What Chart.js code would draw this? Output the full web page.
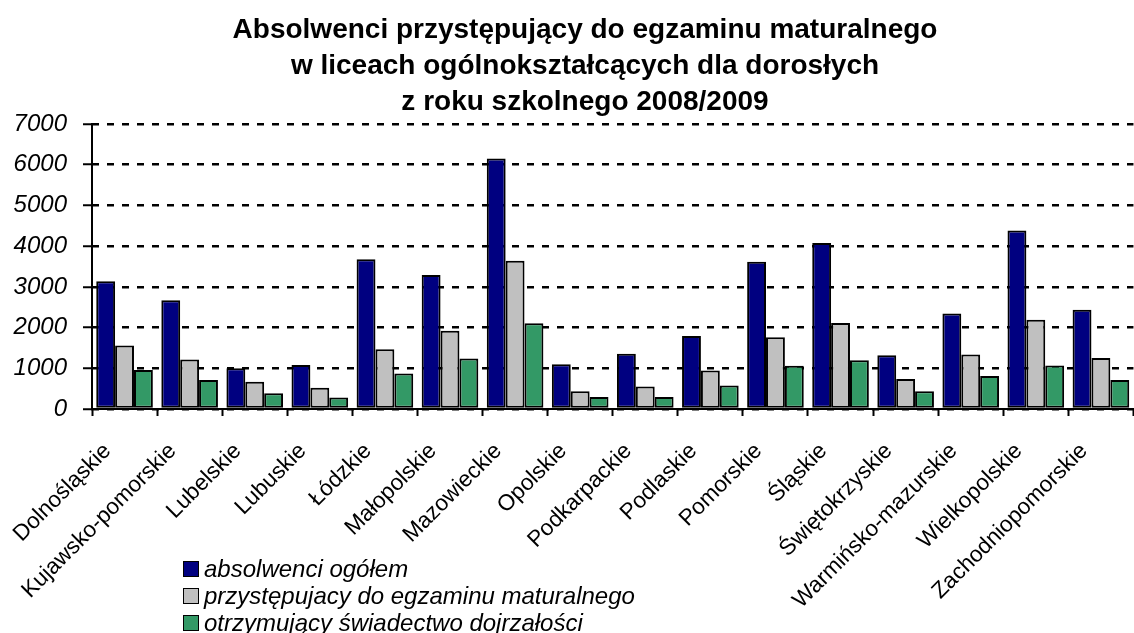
<!DOCTYPE html>
<html lang="pl">
<head>
<meta charset="utf-8">
<title>Absolwenci przystępujący do egzaminu maturalnego</title>
<script src="https://cdn.jsdelivr.net/npm/chart.js@4.4.1/dist/chart.umd.min.js"></script>
<style>
  html, body { margin: 0; padding: 0; background: #fff; overflow: hidden; }
  #wrap { position: relative; width: 1142px; height: 633px; }
  #legenda {
    position: absolute; left: 183px; top: 555px;
    font-family: "Liberation Sans", Arial, sans-serif; font-size: 24px; font-style: italic;
    color: #000; line-height: 27px;
  }
  #legenda div { display: flex; align-items: center; white-space: nowrap; }
  #legenda span.kw {
    display: inline-block; width: 14px; height: 14px; border: 1.5px solid #000;
    margin-right: 5px; flex: none;
  }
</style>
</head>
<body>
<div id="wrap">
  <canvas id="wykres" width="1142" height="633"></canvas>
  <div id="legenda"></div>
</div>
<script>
// województwa
const wojewodztwa = ['Dolnośląskie', 'Kujawsko-pomorskie', 'Lubelskie', 'Lubuskie', 'Łódzkie',
  'Małopolskie', 'Mazowieckie', 'Opolskie', 'Podkarpackie', 'Podlaskie', 'Pomorskie', 'Śląskie',
  'Świętokrzyskie', 'Warmińsko-mazurskie', 'Wielkopolskie', 'Zachodniopomorskie'];

const absolwenci = [3140, 2670, 1000, 1080, 3680, 3290, 6150, 1100, 1355, 1795, 3615, 4075, 1320, 2345, 4385, 2440];
const przystepujacy = [1560, 1215, 670, 520, 1470, 1925, 3640, 435, 555, 945, 1765, 2115, 735, 1340, 2190, 1250];
const swiadectwo = [955, 710, 385, 280, 875, 1240, 2105, 295, 295, 580, 1060, 1200, 435, 810, 1070, 710];

const nazwySerii = ['absolwenci ogółem', 'przystępujacy do egzaminu maturalnego', 'otrzymujący świadectwo dojrzałości'];
const kolory = ['#000080', '#c0c0c0', '#339966'];

const tytul = ['Absolwenci przystępujący do egzaminu maturalnego',
  'w liceach ogólnokształcących dla dorosłych',
  'z roku szkolnego 2008/2009'];

const czcionka = '"Liberation Sans", Arial, sans-serif';

// tytuł rysowany ręcznie - wyśrodkowany nad całym wykresem, a nie nad obszarem kanwy
const tytulPlugin = {
  id: 'tytul',
  afterDraw(chart) {
    const ctx = chart.ctx;
    ctx.save();
    ctx.font = 'bold 28px ' + czcionka;
    ctx.fillStyle = '#000';
    ctx.textAlign = 'center';
    ctx.textBaseline = 'alphabetic';
    tytul.forEach((linia, i) => ctx.fillText(linia, 585, 38 + i * 36));
    ctx.restore();
  }
};

const dane = [absolwenci, przystepujacy, swiadectwo].map((wartosci, i) => ({
  label: nazwySerii[i],
  data: wartosci,
  backgroundColor: kolory[i],
  borderColor: '#000',
  borderWidth: 2,
  borderSkipped: false
}));

const wykres = new Chart(document.getElementById('wykres').getContext('2d'), {
  type: 'bar',
  data: { labels: wojewodztwa, datasets: dane },
  plugins: [tytulPlugin],
  options: {
    responsive: false,
    animation: false,
    layout: { padding: { top: 124, right: 0, left: 0, bottom: 0 } },
    datasets: { bar: { categoryPercentage: 0.87, barPercentage: 1.0 } },
    plugins: {
      legend: { display: false },
      tooltip: { enabled: false },
      title: { display: false }
    },
    scales: {
      x: {
        grid: { drawOnChartArea: false, drawTicks: true, offset: true, tickLength: 7, tickWidth: 2, tickColor: '#000', color: '#000' },
        border: { display: true, color: '#000', width: 2 },
        ticks: {
          color: '#000', autoSkip: false, minRotation: 45, maxRotation: 45,
          padding: 22, labelOffset: -17,
          font: { family: czcionka, size: 22.5 }
        },
        afterFit: s => { s.height = 224; }
      },
      y: {
        min: 0, max: 7000,
        grid: { color: '#000', lineWidth: 2.5, drawTicks: true, tickLength: 9, tickWidth: 2, tickColor: '#000' },
        border: { display: true, color: '#000', width: 2, dash: [7, 8], dashOffset: 1 },
        ticks: {
          stepSize: 1000, color: '#000', padding: 16,
          font: { family: czcionka, size: 24, style: 'italic' },
          callback: v => String(v)
        },
        afterFit: s => { s.width = 92; }
      }
    }
  }
});

// legenda w trzech wierszach pod osią
const legenda = document.getElementById('legenda');
nazwySerii.forEach((nazwa, i) => {
  const wiersz = document.createElement('div');
  const kw = document.createElement('span');
  kw.className = 'kw';
  kw.style.background = kolory[i];
  wiersz.appendChild(kw);
  wiersz.appendChild(document.createTextNode(nazwa));
  legenda.appendChild(wiersz);
});
</script>
</body>
</html>
